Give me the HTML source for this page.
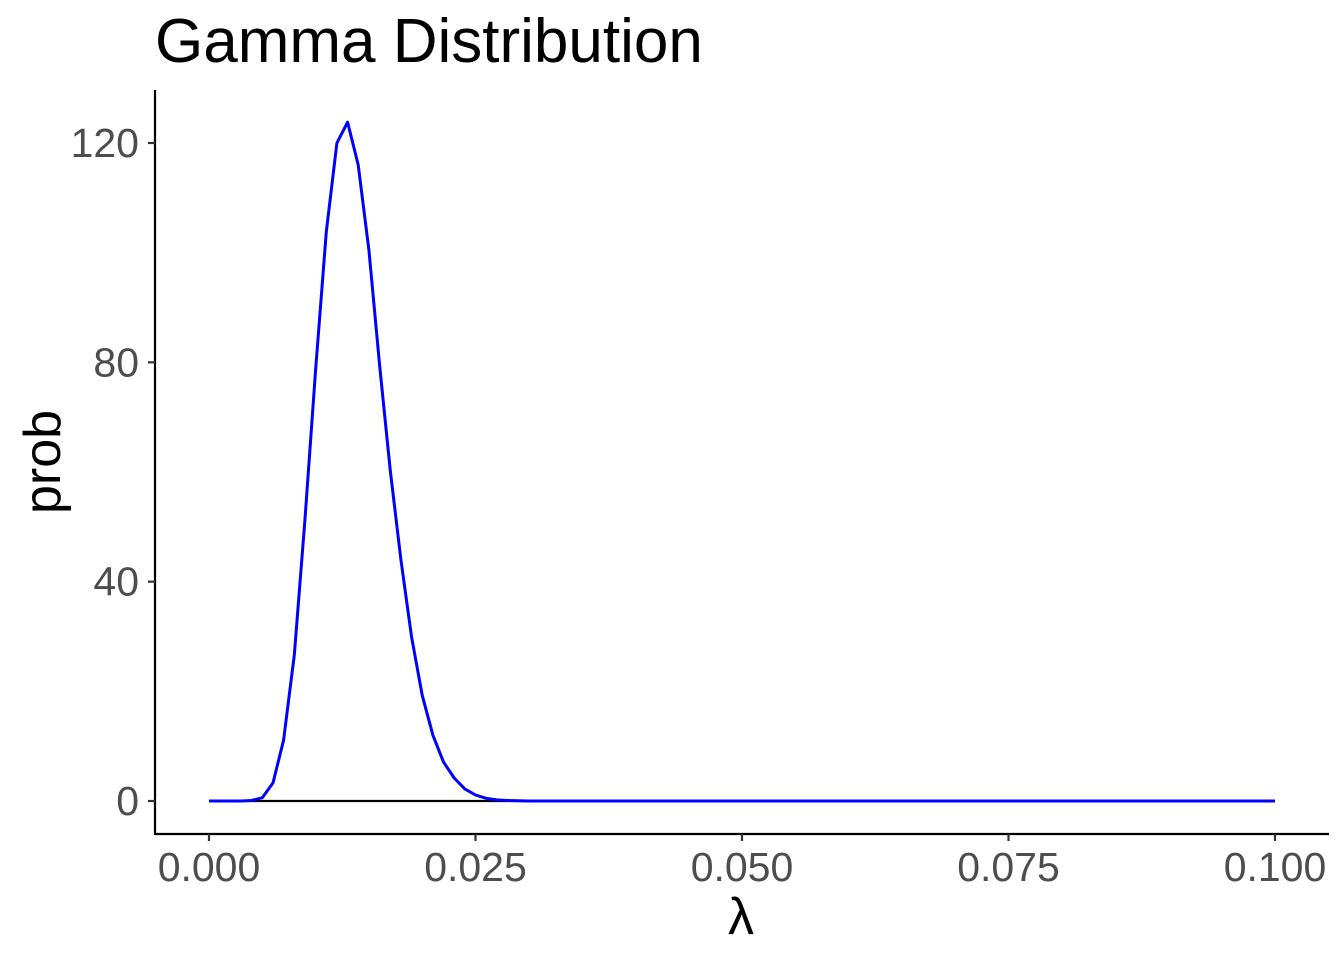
<!DOCTYPE html>
<html><head><meta charset="utf-8"><style>
body{margin:0;background:#fff;}
svg{display:block;font-family:"Liberation Sans",sans-serif;}
</style></head><body>
<svg id="chart" width="1344" height="960">
<text x="155" y="62" font-size="62" fill="#000">Gamma Distribution</text>
<text transform="translate(60,462) rotate(-90)" text-anchor="middle" font-size="52" fill="#000">prob</text>
<text x="741" y="934" text-anchor="middle" font-size="52" fill="#000">λ</text>
<g id="axes"></g>
<g id="marks"></g>
</svg>
<script>
const xVals=[0,0.001,0.002,0.003,0.004,0.005,0.006,0.007,0.008,0.009,0.010,0.011,0.012,0.013,0.014,0.015,0.016,0.017,0.018,0.019,0.020,0.021,0.022,0.023,0.024,0.025,0.026,0.027,0.028,0.029,0.030,0.04,0.05,0.06,0.07,0.08,0.09,0.1];
const probVals=[0,0,0,0,0.1,0.6,3.3,11.1,26.6,51.2,78.6,103.8,120,123.8,116,100.5,79.5,60.4,44,30,19.3,12,7.1,4.2,2.2,1.1,0.5,0.2,0.1,0.05,0,0,0,0,0,0,0,0];
const xTicks=[0,0.025,0.05,0.075,0.1];
const xTickLabels=["0.000","0.025","0.050","0.075","0.100"];
const yTicks=[0,40,80,120];
const yTickLabels=["0","40","80","120"];
const X=v=>209+v*(1275-209)/0.1;
const Y=v=>801-v*(801-143)/120;
const NS="http://www.w3.org/2000/svg";
const axes=document.getElementById('axes'),marks=document.getElementById('marks');
function mk(tag,attrs,parent){const e=document.createElementNS(NS,tag);for(const k in attrs)e.setAttribute(k,attrs[k]);parent.appendChild(e);return e;}
let l=mk('line',{x1:155,y1:90,x2:155,y2:835,stroke:'#000','stroke-width':2.2},axes);


l=mk('line',{x1:154,y1:834,x2:1329,y2:834,stroke:'#000','stroke-width':2.2},axes);


yTicks.forEach((t,i)=>{
 const tk=mk('line',{x1:148,x2:155,y1:Y(t),y2:Y(t),stroke:'#333','stroke-width':2.2},axes);
 
 
 const tx=mk('text',{x:139,y:Y(t)+14,'text-anchor':'end','font-size':41,fill:'#4d4d4d'},axes);
 tx.textContent=yTickLabels[i];
 
 
});
xTicks.forEach((t,i)=>{
 const tk=mk('line',{x1:X(t),x2:X(t),y1:834,y2:841,stroke:'#333','stroke-width':2.2},axes);
 
 
 const tx=mk('text',{x:X(t),y:881,'text-anchor':'middle','font-size':41,fill:'#4d4d4d'},axes);
 tx.textContent=xTickLabels[i];
 
 
});
const zl=mk('line',{x1:X(xVals[0]),x2:X(xVals[xVals.length-1]),y1:Y(0),y2:Y(0),stroke:'#000','stroke-width':2.2},marks);


const pts=xVals.map((x,i)=>X(x).toFixed(1)+','+Y(probVals[i]).toFixed(1)).join(' ');
const pl=mk('polyline',{points:pts,fill:'none',stroke:'#0000ff','stroke-width':3,'stroke-linejoin':'round'},marks);


</script>
</body></html>
